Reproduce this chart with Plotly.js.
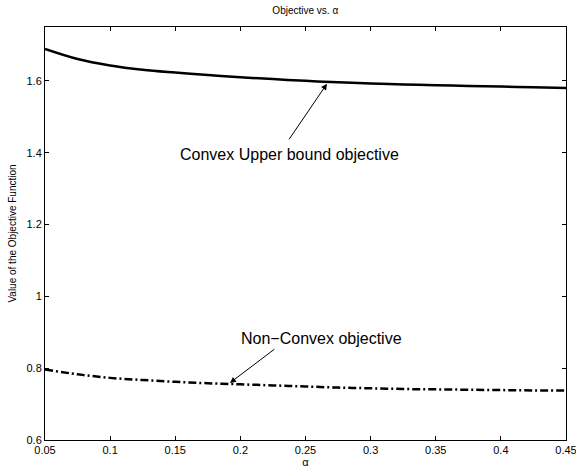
<!DOCTYPE html>
<html>
<head>
<meta charset="utf-8">
<script src="https://cdn.plot.ly/plotly-3.0.1.min.js"></script>
<style>html,body{margin:0;padding:0;background:#fff;}#chart{width:576px;height:468px;}</style>
</head>
<body>
<div id="chart"></div>
<script>
const alpha = [0.05,0.075,0.1,0.125,0.15,0.175,0.2,0.225,0.25,0.275,0.3,0.325,0.35,0.375,0.4,0.425,0.45];
const convexUpper = [1.689,1.661,1.643,1.631,1.623,1.616,1.610,1.605,1.600,1.596,1.593,1.590,1.588,1.586,1.584,1.582,1.580];
const nonConvex = [0.796,0.783,0.773,0.767,0.762,0.758,0.755,0.752,0.749,0.746,0.744,0.742,0.741,0.740,0.739,0.738,0.738];
const xTicks = [0.05,0.1,0.15,0.2,0.25,0.3,0.35,0.4,0.45];
const xTickText = ['0.05','0.1','0.15','0.2','0.25','0.3','0.35','0.4','0.45'];
const yTicks = [0.6,0.8,1,1.2,1.4,1.6];
const yTickText = ['0.6','0.8','1','1.2','1.4','1.6'];

const font = 'Liberation Sans, Arial, Helvetica, sans-serif';
const traces = [
  {x: alpha, y: convexUpper, mode: 'lines', line: {color: '#000', width: 2.5, shape: 'spline'}, name: 'Convex Upper bound objective'},
  {x: alpha, y: nonConvex, mode: 'lines', line: {color: '#000', width: 2.5, dash: '8px,3px,2px,3px', shape: 'spline'}, name: 'Non-Convex objective'}
];
const axisCommon = {showgrid: false, zeroline: false, showline: true, mirror: 'ticks', linecolor: '#000', linewidth: 1,
  ticks: 'inside', ticklen: 4, tickcolor: '#000', tickfont: {family: font, size: 11, color: '#000'}, ticklabeloverflow: 'allow'};
const layout = {
  width: 576, height: 468,
  margin: {l: 45, r: 10, t: 27, b: 28},
  paper_bgcolor: '#fff', plot_bgcolor: '#fff',
  showlegend: false,
  title: {text: 'Objective vs. α', font: {family: font, size: 10, color: '#000'}, x: 0.53, xanchor: 'center', y: 0.985, yanchor: 'top'},
  xaxis: Object.assign({}, axisCommon, {range: [0.05, 0.450001], tickvals: xTicks, ticktext: xTickText,
    title: {text: 'α', font: {family: font, size: 11, color: '#000'}, standoff: 2}}),
  yaxis: Object.assign({}, axisCommon, {range: [0.6, 1.75], tickvals: yTicks, ticktext: yTickText,
    title: {text: 'Value of the Objective Function', font: {family: font, size: 10, color: '#000'}, standoff: 8}}),
  annotations: [
    {x: 0.2665, y: 1.592, ax: 0.2366, ay: 1.433, axref: 'x', ayref: 'y', xref: 'x', yref: 'y', text: '', showarrow: true, arrowhead: 2, arrowsize: 1.2, arrowwidth: 1, arrowcolor: '#000'},
    {x: 0.238, y: 1.394, xref: 'x', yref: 'y', text: 'Convex Upper bound objective', showarrow: false, font: {family: font, size: 16, color: '#000'}},
    {x: 0.192, y: 0.759, ax: 0.2273, ay: 0.856, axref: 'x', ayref: 'y', xref: 'x', yref: 'y', text: '', showarrow: true, arrowhead: 2, arrowsize: 1.2, arrowwidth: 1, arrowcolor: '#000'},
    {x: 0.262, y: 0.884, xref: 'x', yref: 'y', text: 'Non−Convex objective', showarrow: false, font: {family: font, size: 16, color: '#000'}}
  ]
};
Plotly.newPlot('chart', traces, layout, {displayModeBar: false, staticPlot: true});
</script>
</body>
</html>
